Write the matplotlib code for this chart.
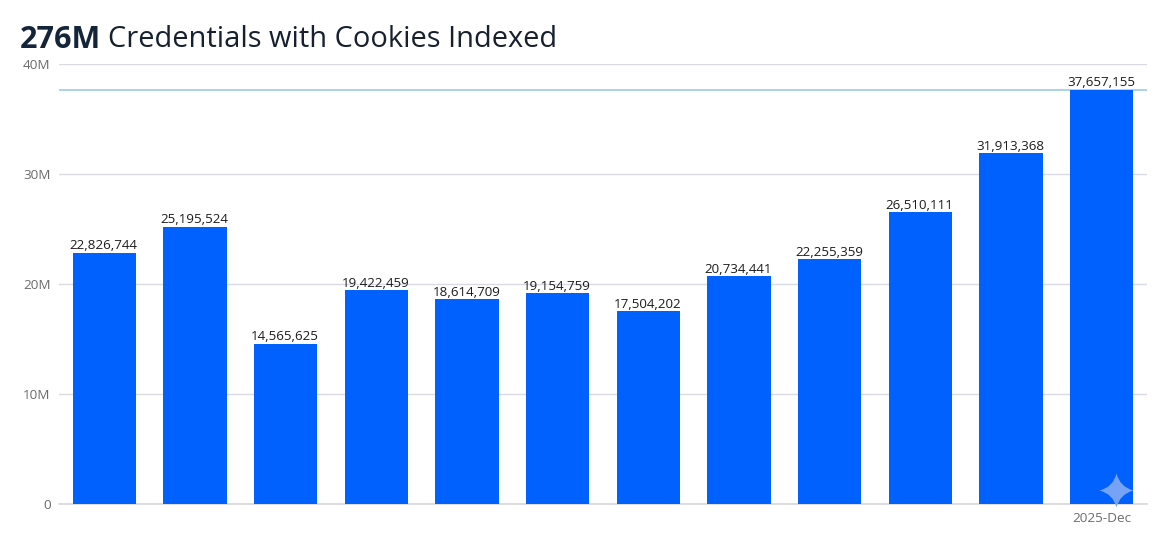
#bar chart of indexed credentials per month
import matplotlib
matplotlib.use('Agg')
import matplotlib.pyplot as plt
from matplotlib.path import Path
from matplotlib.ticker import FuncFormatter

months = ['2025-Jan', '2025-Feb', '2025-Mar', '2025-Apr', '2025-May', '2025-Jun',
          '2025-Jul', '2025-Aug', '2025-Sep', '2025-Oct', '2025-Nov', '2025-Dec']
counts = [22826744, 25195524, 14565625, 19422459, 18614709, 19154759,
          17504202, 20734441, 22255359, 26510111, 31913368, 37657155]
y_ticks = [0, 10000000, 20000000, 30000000, 40000000]
reference_line = 37680000

plt.rcParams['font.family'] = ['Open Sans', 'DejaVu Sans']

def fmt_millions(v, pos):
    return '0' if v == 0 else '%dM' % (v / 1000000)

fig = plt.figure(figsize=(11.6, 5.37), dpi=100)
ax = fig.add_axes([59 / 1160, 1 - 504 / 537, 1088 / 1160, 440 / 537])

positions = list(range(len(months)))
ax.bar(positions, counts, width=0.70, color='#0061fe', zorder=3)
for x, v in zip(positions, counts):
    ax.annotate(format(v, ','), (x, v), xytext=(-0.5, 0.3), textcoords='offset points',
                ha='center', va='bottom', fontsize=9.6, color='#1c1c1c', zorder=5)

ax.axhline(reference_line, color='#9ccbe8', lw=1.2, zorder=2)
ax.set_xlim(-0.5, 11.5)
ax.set_ylim(0, 40000000)
ax.set_yticks(y_ticks)
ax.yaxis.set_major_formatter(FuncFormatter(fmt_millions))
ax.set_xticks([11])
ax.set_xticklabels([months[11]])
ax.tick_params(axis='both', length=0, labelcolor='#6b6b6b', labelsize=9.7)
ax.tick_params(axis='y', pad=6)
ax.tick_params(axis='x', pad=6)
ax.grid(axis='y', color='#d8dbe2', lw=1.0, zorder=0)
ax.set_axisbelow(True)
for side in ['top', 'right', 'left']:
    ax.spines[side].set_visible(False)
ax.spines['bottom'].set_color('#d4d4d4')
ax.spines['bottom'].set_linewidth(1.1)

# the little spark in the corner
c = 0.2
spark = Path([(0, 1), (c, c), (1, 0), (c, -c), (0, -1), (-c, -c), (-1, 0), (-c, c), (0, 1)],
             [Path.MOVETO, Path.CURVE3, Path.CURVE3, Path.CURVE3, Path.CURVE3,
              Path.CURVE3, Path.CURVE3, Path.CURVE3, Path.CURVE3])
ax.scatter([11.16], [1270000], marker=spark, s=600, color='#76a3f6', lw=0, zorder=6,
           clip_on=False)

title = fig.text(20 / 1160, 1 - 39.5 / 537, '276M', fontsize=22, fontweight='bold',
                 color='#14253a', va='center', ha='left')
fig.canvas.draw()
box = title.get_window_extent()
fig.text(108 / 1160, 1 - 39.5 / 537, 'Credentials with Cookies Indexed', fontsize=20.9,
         color='#16202e', va='center', ha='left')

fig.savefig('out.png', dpi=100)
